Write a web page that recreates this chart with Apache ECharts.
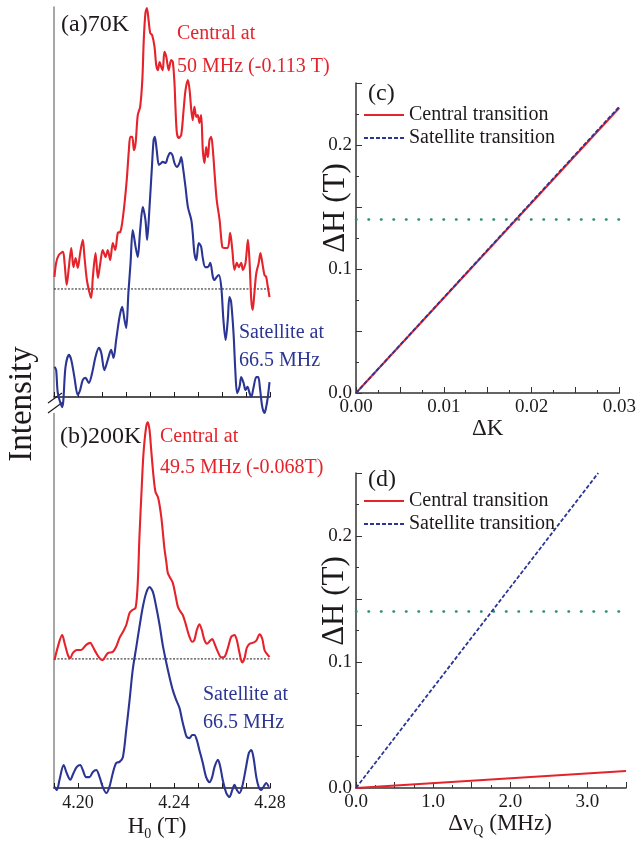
<!DOCTYPE html>
<html><head><meta charset="utf-8">
<script src="https://cdn.jsdelivr.net/npm/echarts@6/dist/echarts.min.js"></script>
<style>html,body{margin:0;padding:0;background:#fff}#c{width:639px;height:846px}</style>
</head><body><div id="c"></div>
<script>
// ---------- data ----------
// Panel (a) 70K spectra: [H0 (T), intensity (arb.)]
const redA = [[4.1902,30.8],[4.1909,34.4],[4.1920,36.4],[4.1937,37.2],[4.1944,34.4],[4.1953,28.7],[4.1962,33.3],[4.1972,38.2],[4.1981,33.3],[4.1990,35.6],[4.1999,33.1],[4.2009,36.9],[4.2020,40.3],[4.2027,35.9],[4.2037,30.0],[4.2048,26.7],[4.2055,25.4],[4.2062,30.8],[4.2073,36.9],[4.2083,30.5],[4.2093,34.4],[4.2103,37.7],[4.2115,35.9],[4.2124,37.7],[4.2134,35.1],[4.2145,39.5],[4.2155,37.7],[4.2166,42.1],[4.2176,42.3],[4.2184,44.6],[4.2194,49.7],[4.2203,55.6],[4.2212,63.3],[4.2218,66.7],[4.2226,66.7],[4.2233,63.3],[4.2240,65.1],[4.2249,72.3],[4.2259,74.4],[4.2268,81.3],[4.2274,91.5],[4.2281,98.5],[4.2287,99.7],[4.2294,96.7],[4.2301,93.3],[4.2309,92.8],[4.2319,89.7],[4.2326,85.1],[4.2333,83.8],[4.2340,85.9],[4.2347,84.6],[4.2353,83.8],[4.2360,88.5],[4.2368,87.2],[4.2378,83.8],[4.2388,86.4],[4.2395,85.9],[4.2402,80.5],[4.2406,74.4],[4.2412,67.7],[4.2420,66.4],[4.2430,67.2],[4.2440,73.6],[4.2448,78.7],[4.2458,81.3],[4.2465,78.7],[4.2472,73.6],[4.2478,71.0],[4.2485,74.4],[4.2493,71.8],[4.2499,72.3],[4.2506,70.3],[4.2513,72.3],[4.2520,63.3],[4.2527,60.0],[4.2534,64.1],[4.2541,61.5],[4.2548,65.9],[4.2555,66.7],[4.2562,63.3],[4.2569,57.4],[4.2578,50.5],[4.2590,45.4],[4.2601,38.5],[4.2610,38.2],[4.2624,38.2],[4.2634,42.1],[4.2643,37.7],[4.2652,32.6],[4.2662,34.4],[4.2670,33.3],[4.2680,34.4],[4.2687,32.6],[4.2698,34.4],[4.2708,40.3],[4.2715,34.4],[4.2722,24.9],[4.2728,22.3],[4.2735,26.7],[4.2743,31.8],[4.2753,34.4],[4.2760,36.9],[4.2768,34.4],[4.2777,31.3],[4.2784,30.8],[4.2791,28.2],[4.2798,25.6]];
const blueA = [[4.1902,7.7],[4.1909,6.9],[4.1916,1.0],[4.1934,-2.6],[4.1948,7.7],[4.1962,10.8],[4.1972,9.5],[4.1985,5.1],[4.1999,0.5],[4.2009,1.8],[4.2020,4.4],[4.2031,4.9],[4.2045,3.6],[4.2059,6.2],[4.2073,10.3],[4.2087,12.6],[4.2097,11.3],[4.2110,6.9],[4.2124,9.5],[4.2138,12.1],[4.2148,10.0],[4.2159,14.6],[4.2173,20.5],[4.2184,23.1],[4.2194,19.7],[4.2201,17.7],[4.2210,26.7],[4.2219,34.4],[4.2228,42.8],[4.2240,38.5],[4.2249,35.9],[4.2259,42.8],[4.2270,48.7],[4.2281,45.4],[4.2288,40.3],[4.2298,48.7],[4.2308,59.0],[4.2315,65.9],[4.2320,66.7],[4.2328,63.3],[4.2337,59.5],[4.2347,60.0],[4.2353,60.3],[4.2365,60.0],[4.2374,61.5],[4.2384,62.6],[4.2393,62.1],[4.2402,60.0],[4.2412,59.0],[4.2423,60.0],[4.2430,61.5],[4.2437,59.0],[4.2448,53.8],[4.2458,48.7],[4.2472,45.4],[4.2478,42.1],[4.2485,36.9],[4.2493,35.1],[4.2503,39.5],[4.2513,38.5],[4.2520,35.6],[4.2530,33.3],[4.2541,33.3],[4.2551,34.4],[4.2562,30.8],[4.2569,30.0],[4.2578,30.8],[4.2587,31.3],[4.2597,28.2],[4.2606,19.7],[4.2615,14.6],[4.2624,19.7],[4.2631,25.6],[4.2638,24.4],[4.2648,16.4],[4.2656,6.2],[4.2663,1.0],[4.2673,2.6],[4.2680,5.1],[4.2690,3.6],[4.2698,1.8],[4.2706,2.6],[4.2715,1.0],[4.2722,0],[4.2731,2.3],[4.2743,5.1],[4.2751,5.1],[4.2759,1.8],[4.2768,-2.6],[4.2777,-4.1],[4.2784,-2.6],[4.2791,0],[4.2798,3.8]];
// Panel (b) 200K spectra
const redB = [[4.1902,32.8],[4.1916,36.2],[4.1934,39.2],[4.1944,37.2],[4.1958,34.1],[4.1968,33.3],[4.1978,34.6],[4.1995,35.4],[4.2013,35.4],[4.2034,36.7],[4.2051,37.2],[4.2062,36.2],[4.2076,34.6],[4.2090,33.3],[4.2101,32.8],[4.2110,33.3],[4.2124,34.6],[4.2145,34.9],[4.2159,36.2],[4.2173,38.5],[4.2187,40.0],[4.2201,41.8],[4.2215,44.9],[4.2226,45.6],[4.2240,46.2],[4.2249,52.6],[4.2256,64.4],[4.2265,76.4],[4.2273,85.9],[4.2284,92.6],[4.2291,93.8],[4.2298,91.8],[4.2305,86.7],[4.2315,79.7],[4.2323,75.9],[4.2333,74.6],[4.2340,72.5],[4.2347,69.5],[4.2353,66.0],[4.2360,61.5],[4.2368,58.0],[4.2374,55.2],[4.2384,53.9],[4.2395,52.6],[4.2406,49.5],[4.2416,46.5],[4.2426,45.3],[4.2437,44.3],[4.2448,42.2],[4.2462,39.2],[4.2476,37.5],[4.2485,38.0],[4.2495,40.5],[4.2506,42.0],[4.2516,40.5],[4.2527,37.9],[4.2538,37.0],[4.2548,37.6],[4.2559,38.2],[4.2569,37.0],[4.2583,34.9],[4.2597,33.5],[4.2610,33.6],[4.2624,35.8],[4.2638,38.7],[4.2652,39.2],[4.2662,37.9],[4.2673,34.6],[4.2684,32.2],[4.2694,33.3],[4.2703,35.9],[4.2715,37.0],[4.2728,37.2],[4.2743,37.8],[4.2756,39.4],[4.2768,38.2],[4.2777,35.4],[4.2787,34.4],[4.2798,33.6]];
const blueB = [[4.1902,0.3],[4.1912,-0.5],[4.1923,2.1],[4.1940,5.9],[4.1953,3.8],[4.1968,2.1],[4.1981,3.8],[4.1995,5.4],[4.2009,5.9],[4.2020,4.6],[4.2034,2.8],[4.2048,2.8],[4.2062,4.1],[4.2076,4.6],[4.2090,2.8],[4.2103,0.3],[4.2118,-1.3],[4.2131,0.3],[4.2145,3.8],[4.2159,6.4],[4.2173,6.7],[4.2187,7.9],[4.2201,14.9],[4.2215,22.6],[4.2228,30.3],[4.2243,36.2],[4.2256,41.3],[4.2270,46.4],[4.2284,50.0],[4.2298,51.5],[4.2312,50.3],[4.2326,46.4],[4.2340,41.8],[4.2353,36.7],[4.2368,32.1],[4.2381,28.5],[4.2395,25.1],[4.2409,22.6],[4.2423,20.5],[4.2434,17.4],[4.2444,14.9],[4.2453,13.1],[4.2465,12.8],[4.2476,13.6],[4.2485,13.6],[4.2495,12.3],[4.2506,9.7],[4.2520,6.4],[4.2534,2.8],[4.2548,1.5],[4.2559,2.8],[4.2569,5.4],[4.2583,7.2],[4.2593,5.4],[4.2603,2.1],[4.2618,-1.3],[4.2631,-2.3],[4.2643,-0.5],[4.2652,0.8],[4.2662,-0.5],[4.2673,-1.3],[4.2684,0.3],[4.2698,4.6],[4.2712,9.0],[4.2722,9.7],[4.2731,7.9],[4.2743,2.8],[4.2753,0.3],[4.2763,-0.5],[4.2773,0.3],[4.2784,1.3],[4.2795,0.3]];
// zero-intensity reference levels of the central lines
const baseA = 27.7;
const baseB = 33.1;
const fieldRange = [4.19, 4.28];
// Panel (c): dH vs dK
const deltaK = [0, 0.03];
const dHcentralK = [0, 0.23];
const dHsatK = [0, 0.231];
// Panel (d): dH vs dnuQ
const dnuQcentral = [0, 3.5];
const dHcentralQ = [0, 0.0135];
const dnuQsat = [0, 3.14];
const dHsatQ = [0, 0.25];
// resolution threshold (dotted green)
const dHlimit = 0.14;
const kRange = [0, 0.03];
const qRange = [0, 3.5];

// ---------- styling ----------
const FONT = '"Liberation Serif", "Times New Roman", serif';
const RED = '#e5232b';
const BLUE = '#2b3593';
const INK = '#1e1a1b';
const GREEN = '#2f8c6c';
const zip = (a, b) => a.map((v, i) => [v, b[i]]);

const chart = echarts.init(document.getElementById('c'), null, {renderer: 'canvas'});

const subRich = {s: {fontFamily: FONT, fontSize: 14, color: INK, padding: [14, 0, 0, 0]}};
const specX = (gi, labels, name) => ({
  gridIndex: gi, type: 'value', min: fieldRange[0], max: fieldRange[1], interval: 0.01,
  axisLine: {lineStyle: {color: INK, width: 1.5}},
  axisTick: {inside: true, length: 5, lineStyle: {color: INK, width: 1}},
  axisLabel: {show: labels, fontFamily: FONT, fontSize: 18, color: INK, margin: 6,
    formatter: v => (Math.round(v * 100) % 4 === 0 ? v.toFixed(2) : '')},
  splitLine: {show: false},
  name: name || '', nameLocation: 'middle', nameGap: 25,
  nameTextStyle: {fontFamily: FONT, fontSize: 23, color: INK, padding: [0, 10, 0, 0], rich: subRich}
});
const specY = (gi, max) => ({
  gridIndex: gi, type: 'value', min: 0, max: max,
  axisLine: {show: true, lineStyle: {color: '#8a8a8a', width: 1.5}},
  axisTick: {show: false}, axisLabel: {show: false}, splitLine: {show: false}
});
const calcX = (gi, range, interval, fmt, name, gap, pad) => ({
  gridIndex: gi, type: 'value', min: range[0], max: range[1], interval: interval,
  axisLine: {onZero: false, lineStyle: {color: '#333', width: 1.5}},
  axisTick: {inside: true, length: 6, lineStyle: {color: '#333'}},
  minorTick: {show: true, splitNumber: 2, length: 3, lineStyle: {color: '#333'}},
  axisLabel: {fontFamily: FONT, fontSize: 19, color: INK, margin: 5, formatter: fmt},
  splitLine: {show: false},
  name: name, nameLocation: 'middle', nameGap: gap,
  nameTextStyle: {fontFamily: FONT, fontSize: 23, color: INK, padding: pad, rich: subRich}
});
const calcY = gi => ({
  gridIndex: gi, type: 'value', min: 0, max: 0.25, interval: 0.05,
  axisLine: {show: true, onZero: false, lineStyle: {color: '#333', width: 1.5}},
  axisTick: {show: true, inside: true, length: 6, lineStyle: {color: '#333'}},
  minorTick: {show: true, splitNumber: 2, length: 3, lineStyle: {color: '#333'}},
  axisLabel: {fontFamily: FONT, fontSize: 19, color: INK, margin: 4,
    formatter: v => (Math.round(v * 100) % 10 === 0 ? v.toFixed(1) : '')},
  splitLine: {show: false}
});
const spec = (name, data, color, xi) => ({
  name: name, type: 'line', xAxisIndex: xi, yAxisIndex: xi, data: data,
  symbol: 'none', smooth: 0.3, clip: false, silent: true,
  lineStyle: {color: color, width: 2.1}
});
const flat = (xi, range, y, style) => ({
  type: 'line', xAxisIndex: xi, yAxisIndex: xi, data: [[range[0], y], [range[1], y]],
  symbol: 'none', silent: true, clip: false, lineStyle: style, z: 1
});
const txt = (x, y, text, size, color) => ({
  type: 'text', x: x, y: y, silent: true,
  style: {text: text, font: size + 'px ' + FONT, fill: color,
    textAlign: 'left', textVerticalAlign: 'middle', align: 'left', verticalAlign: 'middle'}
});
const vtxt = (x, y, text, size) => ({
  type: 'text', x: x, y: y, rotation: Math.PI / 2, silent: true,
  style: {text: text, font: size + 'px ' + FONT, fill: INK,
    textAlign: 'center', textVerticalAlign: 'middle', align: 'center', verticalAlign: 'middle'}
});
const legendCfg = top => ({
  data: ['Central transition', 'Satellite transition'], orient: 'vertical',
  left: 363, top: top, padding: 0, itemWidth: 40, itemHeight: 14, itemGap: 3, selectedMode: false,
  itemStyle: {opacity: 0},
  textStyle: {fontFamily: FONT, fontSize: 20, color: INK}
});

chart.setOption({
  animation: false,
  backgroundColor: '#fff',
  grid: [
    {left: 54, top: 7, width: 216, height: 390},
    {left: 54, top: 413.6, width: 216, height: 374.4},
    {left: 356, top: 83, width: 270, height: 310},
    {left: 356, top: 473, width: 270, height: 315}
  ],
  xAxis: [
    specX(0, false),
    specX(1, true, 'H{s|0} (T)'),
    calcX(2, kRange, 0.005, v => (Math.round(v * 1000) % 10 === 0 ? v.toFixed(2) : ''), 'ΔK', 24, [0, 0, 0, 0]),
    calcX(3, qRange, 0.5, v => (Math.round(v * 2) % 2 === 0 ? v.toFixed(1) : ''), 'Δν{s|Q} (MHz)', 20, [0, 0, 0, 18])
  ],
  yAxis: [specY(0, 100), specY(1, 96), calcY(2), calcY(3)],
  legend: [legendCfg(105), legendCfg(491)],
  series: [
    flat(0, fieldRange, baseA, {color: INK, width: 1, type: [2, 1.5]}),
    flat(1, fieldRange, baseB, {color: INK, width: 1, type: [2, 1.5]}),
    spec('redA', redA, RED, 0),
    spec('blueA', blueA, BLUE, 0),
    spec('redB', redB, RED, 1),
    spec('blueB', blueB, BLUE, 1),
    flat(2, kRange, dHlimit, {color: GREEN, width: 2.5, type: [0.5, 12], cap: 'round'}),
    flat(3, qRange, dHlimit, {color: GREEN, width: 2.5, type: [0.5, 12], cap: 'round'}),
    {name: 'Central transition', type: 'line', xAxisIndex: 2, yAxisIndex: 2, data: zip(deltaK, dHcentralK),
      symbol: 'none', silent: true, itemStyle: {color: RED}, lineStyle: {color: RED, width: 2}},
    {name: 'Satellite transition', type: 'line', xAxisIndex: 2, yAxisIndex: 2, data: zip(deltaK, dHsatK),
      symbol: 'none', silent: true, itemStyle: {color: BLUE}, lineStyle: {color: BLUE, width: 1.8, type: [4, 2]}},
    {name: 'Central transition', type: 'line', xAxisIndex: 3, yAxisIndex: 3, data: zip(dnuQcentral, dHcentralQ),
      symbol: 'none', silent: true, itemStyle: {color: RED}, lineStyle: {color: RED, width: 2}},
    {name: 'Satellite transition', type: 'line', xAxisIndex: 3, yAxisIndex: 3, data: zip(dnuQsat, dHsatQ),
      symbol: 'none', silent: true, itemStyle: {color: BLUE}, lineStyle: {color: BLUE, width: 1.8, type: [4, 2]}}
  ],
  graphic: [
    txt(61, 25, '(a)70K', 24, INK),
    txt(177, 34, 'Central at', 20, RED),
    txt(177, 67, '50 MHz (-0.113 T)', 20, RED),
    txt(239, 333, 'Satellite at', 20, BLUE),
    txt(239, 361, '66.5 MHz', 20, BLUE),
    txt(60, 437, '(b)200K', 24, INK),
    txt(160, 437, 'Central at', 20, RED),
    txt(160, 468, '49.5 MHz (-0.068T)', 20, RED),
    txt(203, 695, 'Satellite at', 20, BLUE),
    txt(203, 723, '66.5 MHz', 20, BLUE),
    txt(368, 94, '(c)', 24, INK),
    txt(368, 480, '(d)', 24, INK),
    vtxt(22, 404, 'Intensity', 33),
    vtxt(336, 208, 'ΔH (T)', 31),
    vtxt(335, 601, 'ΔH (T)', 31),
    {type: 'line', silent: true, shape: {x1: 48, y1: 403, x2: 62, y2: 393}, style: {stroke: INK, lineWidth: 1.2}},
    {type: 'line', silent: true, shape: {x1: 48, y1: 413, x2: 63, y2: 402}, style: {stroke: INK, lineWidth: 1.2}}
  ]
});
</script></body></html>
